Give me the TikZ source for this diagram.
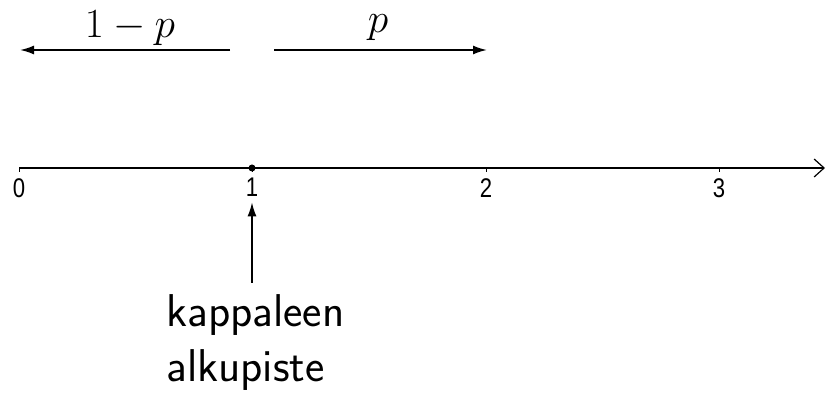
\documentclass[tikz,border=0pt]{standalone}
\usepackage{fontspec}
\usepackage{tikz}
\usetikzlibrary{positioning,arrows.meta}
\newfontfamily\axisfont[FakeStretch=0.82]{Liberation Sans}

\tikzset{
  moveArrow/.style={line width=0.9pt,-{Latex[length=7pt,width=4.5pt]}},
  tickLabel/.style={font=\axisfont\fontsize{13.5}{15}\selectfont,anchor=north,inner sep=0pt},
  probLabel/.style={font=\fontsize{22}{26}\selectfont,inner sep=0pt}
}

\begin{document}
\begin{tikzpicture}[x=0.5pt,y=0.5pt]
        \useasboundingbox (0,0) rectangle (826,396);
        % axis
        \coordinate (axStart) at (19,228);
        \coordinate (axEnd) at (825,228);
        \draw[line width=0.6pt,-{Straight Barb[length=5pt,width=9pt]}] (axStart) -- (axEnd);
        \foreach \i/\x in {0/19,1/252,2/486,3/719} {
          \draw[line width=0.5pt] (\x,228) -- (\x,224);
          \node[tickLabel] (l\i) at (\x,218) {\i};
        }
        \fill (252,228) circle (3.5);
        % moves
        \coordinate (leftFrom) at (230,346);
        \coordinate (leftTo) at (20,346);
        \coordinate (rightFrom) at (274,346);
        \coordinate (rightTo) at (487,346);
        \draw[moveArrow] (leftFrom) -- (leftTo);
        \draw[moveArrow] (rightFrom) -- (rightTo);
        \node[probLabel] (qLab) at (130,368) {$1-p$};
        \node[probLabel] (pLab) at (378,368) {$p$};
        % start point
        \node[anchor=north west,inner sep=0pt,align=left,
              font=\sffamily\fontsize{23}{27.5}\selectfont] (start) at (166,102)
          {kappaleen\\alkupiste};
        \draw[line width=0.8pt,-{Latex[length=7pt,width=4.5pt]},
              shorten <=5.5pt,shorten >=2.5pt]
          (start.north -| l1.south) -- (l1.south);
      \end{tikzpicture}
\end{document}
